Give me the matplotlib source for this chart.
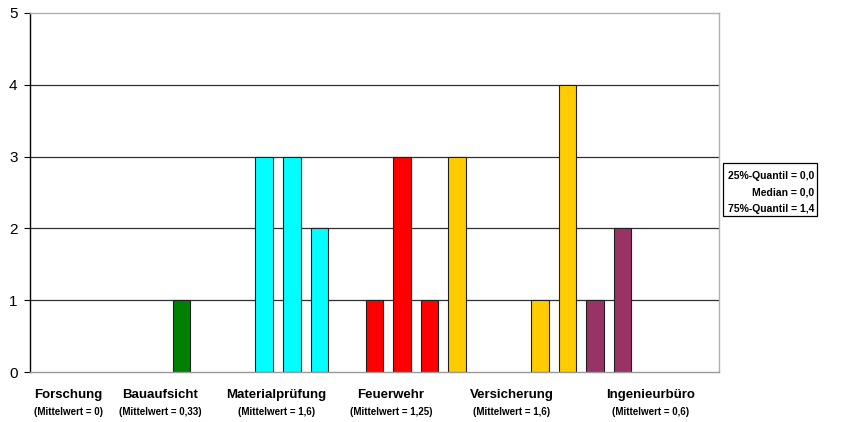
import matplotlib
matplotlib.use("Agg")
import matplotlib.pyplot as plt
from matplotlib.patches import Rectangle

plt.rcParams['font.family'] = ['Liberation Sans', 'DejaVu Sans']

# Answers per respondent, grouped by institution
groups = ["Forschung", "Bauaufsicht", "Materialprüfung", "Feuerwehr", "Versicherung", "Ingenieurbüro"]
means = ["0", "0,33", "1,6", "1,25", "1,6", "0,6"]
values = [
    [0, 0, 0],
    [0, 0, 1],
    [0, 0, 3, 3, 2],
    [0, 1, 3, 1],
    [3, 0, 0, 1, 4],
    [1, 2, 0, 0, 0],
]
colors = ["#008000", "#008000", "#00FFFF", "#FF0000", "#FFCC00", "#993366"]
label_pos = [0.88, 4.22, 8.43, 12.6, 16.97, 22.03]
stats_lines = ["25%-Quantil = 0,0", "Median = 0,0", "75%-Quantil = 1,4"]

W, H = 844, 422
fig = plt.figure(figsize=(W / 100, H / 100), dpi=100)
ax = fig.add_axes([30/W, 1 - 372/H, 689/W, 359/H])

x = 0
for vals, col in zip(values, colors):
    for v in vals:
        if v > 0:
            ax.bar(x, v, width=0.64, color=col, edgecolor="#202020", linewidth=0.8, zorder=3)
        x += 1
n = x

ax.set_xlim(-0.5, n - 0.5)
ax.set_ylim(0, 5)
ax.set_yticks(range(6))
ax.set_yticklabels([str(i) for i in range(6)], fontsize=11)
ax.set_xticks([])
for y in range(1, 5):
    ax.axhline(y, color="#303030", linewidth=0.9, zorder=1)
ax.spines['top'].set_color("#b0b0b0")
ax.spines['right'].set_color("#b0b0b0")
ax.spines['bottom'].set_color("#999999")
ax.spines['left'].set_color("#000000")
for s in ax.spines.values():
    s.set_linewidth(1.0)
ax.spines['bottom'].set_zorder(4)
ax.tick_params(axis='y', length=4, width=0.8, pad=5, color="#000000")

for g, m, p in zip(groups, means, label_pos):
    ax.text(p, -0.32, g, ha="center", va="center", fontsize=9.5, fontweight="bold")
    ax.text(p, -0.56, f"(Mittelwert = {m})", ha="center", va="center", fontsize=7,
            fontweight="bold")

# statistics box to the right of the plot
fig.patches.append(Rectangle((723/W, 1 - 216/H), 94/W, 53/H, transform=fig.transFigure,
                             facecolor="white", edgecolor="#000000", linewidth=0.9))
for i, line in enumerate(stats_lines):
    fig.text(814/W, 1 - (176 + 16.5 * i)/H, line, ha="right", va="center",
             fontsize=7.5, fontweight="bold")

fig.savefig("out.png", dpi=100)
